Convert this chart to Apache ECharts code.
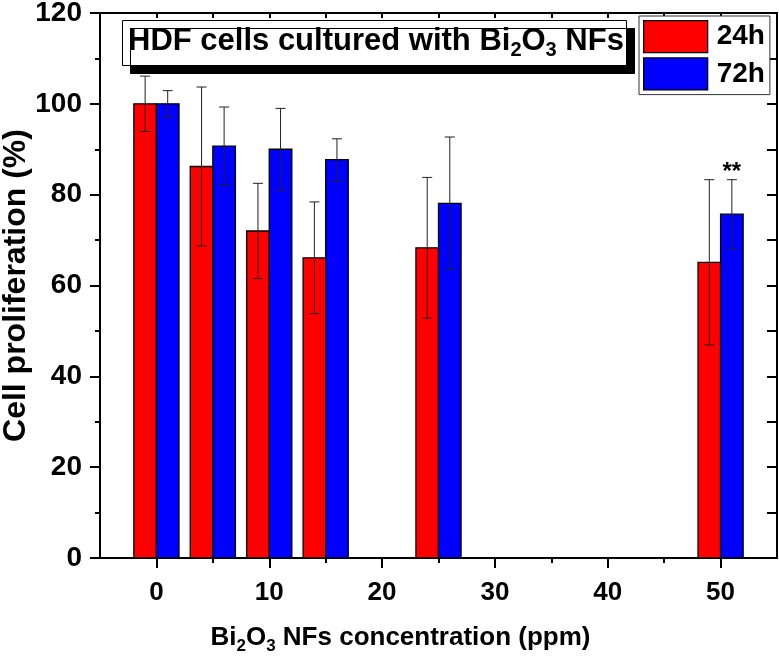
<!DOCTYPE html>
<html>
<head>
<meta charset="utf-8">
<script src="https://cdn.jsdelivr.net/npm/echarts@6/dist/echarts.min.js"></script>
<style>html,body{margin:0;padding:0;background:#fff;}#c{width:779px;height:658px;}</style>
</head>
<body>
<div id="c"></div>
<script>
// ---- data ----
const concentrations = [0, 5, 10, 15, 25, 50];
const h24 = [100, 86.2, 72.0, 66.1, 68.3, 65.1];
const h24Err = [6.1, 17.5, 10.5, 12.3, 15.5, 18.2];
const h72 = [100, 90.7, 90.0, 87.7, 78.1, 75.7];
const h72Err = [2.9, 8.6, 9.0, 4.6, 14.6, 7.6];
const h72Marks = ['', '', '', '', '', '**'];
const xMajorTicks = [0, 10, 20, 30, 40, 50];
const xMinorTicks = [5, 15, 25, 35, 45];
const seriesNames = ['24h', '72h'];

const FONT = '"Liberation Sans", Arial, sans-serif';

function makeRender(off0, off1, marks) {
  return function (params, api) {
    const x = api.value(0), y = api.value(1), e = api.value(2);
    const tl = api.coord([x + off0, y]);
    const br = api.coord([x + off1, 0]);
    const cx = api.coord([x + (off0 + off1) / 2, 0])[0];
    const top = api.coord([x, y + e])[1];
    const bot = api.coord([x, y - e])[1];
    const cap = 5;
    const children = [
      { type: 'rect', shape: { x: tl[0], y: tl[1], width: br[0] - tl[0], height: br[1] - tl[1] },
        style: { fill: api.visual('color'), stroke: '#000', lineWidth: 1.3 } },
      { type: 'line', shape: { x1: cx, y1: top, x2: cx, y2: bot }, style: { stroke: '#222', lineWidth: 1 } },
      { type: 'line', shape: { x1: cx - cap, y1: top, x2: cx + cap, y2: top }, style: { stroke: '#222', lineWidth: 1 } },
      { type: 'line', shape: { x1: cx - cap, y1: bot, x2: cx + cap, y2: bot }, style: { stroke: '#222', lineWidth: 1 } }
    ];
    const m = marks ? marks[params.dataIndex] : '';
    if (m) {
      children.push({ type: 'text', style: { text: m, x: cx, y: top - 7, align: 'center', verticalAlign: 'middle',
        font: 'bold 24px ' + FONT, fill: '#000' } });
    }
    return { type: 'group', children: children };
  };
}

const chart = echarts.init(document.getElementById('c'), null, { renderer: 'canvas' });
const axisLineStyle = { color: '#000', width: 2 };
const option = {
  animation: false,
  backgroundColor: '#fff',
  grid: { left: 100, right: 2, top: 13, bottom: 100, containLabel: false, outerBoundsMode: 'none' },
  title: {
    text: '{a|HDF cells cultured with Bi}{s|2}{a|O}{s|3}{a| NFs}',
    left: 122, top: 17,
    padding: [6, 3, 6, 6],
    backgroundColor: '#fff',
    borderColor: '#000', borderWidth: 1,
    shadowColor: '#000', shadowBlur: 0, shadowOffsetX: 8, shadowOffsetY: 8,
    textStyle: {
      rich: {
        a: { fontFamily: FONT, fontWeight: 'bold', fontSize: 31, color: '#000', lineHeight: 37 },
        s: { fontFamily: FONT, fontWeight: 'bold', fontSize: 20, color: '#000', lineHeight: 37, verticalAlign: 'bottom' }
      }
    }
  },
  legend: {
    data: seriesNames,
    left: 639, top: 16,
    orient: 'vertical',
    icon: 'rect',
    itemWidth: 64, itemHeight: 32, itemGap: 4,
    padding: [4, 5, 4, 4],
    backgroundColor: '#fff',
    borderColor: '#333', borderWidth: 1,
    itemStyle: { borderColor: '#000', borderWidth: 1.3 },
    textStyle: { fontFamily: FONT, fontWeight: 'bold', fontSize: 28, color: '#000', lineHeight: 32, padding: [0, 0, 0, 4] }
  },
  xAxis: [
    {
      type: 'value', position: 'bottom', min: -5, max: 55,
      axisLine: { show: true, onZero: false, lineStyle: axisLineStyle },
      axisTick: { show: true, customValues: xMajorTicks, length: 10, lineStyle: axisLineStyle },
      axisLabel: { customValues: xMajorTicks, fontFamily: FONT, fontWeight: 'bold', fontSize: 26, color: '#000', margin: 22 },
      splitLine: { show: false },
      name: '{a|Bi}{s|2}{a|O}{s|3}{a| NFs concentration (ppm)}{e|}',
      nameLocation: 'middle', nameGap: 63, nameMoveOverlap: false,
      nameTextStyle: {
        rich: {
          a: { fontFamily: FONT, fontWeight: 'bold', fontSize: 26, color: '#000', lineHeight: 34 },
          s: { fontFamily: FONT, fontWeight: 'bold', fontSize: 17, color: '#000', lineHeight: 34, verticalAlign: 'bottom' },
          e: { width: 76, lineHeight: 34 }
        }
      }
    },
    {
      type: 'value', position: 'bottom', min: -5, max: 55,
      axisLine: { show: false, onZero: false },
      axisTick: { show: true, customValues: xMinorTicks, length: 5, lineStyle: axisLineStyle },
      axisLabel: { show: false },
      splitLine: { show: false }
    },
    {
      type: 'value', position: 'top', min: -5, max: 55, interval: 5,
      axisLine: { show: true, onZero: false, lineStyle: axisLineStyle },
      axisTick: { show: true, inside: true, length: 5, lineStyle: axisLineStyle },
      axisLabel: { show: false },
      splitLine: { show: false }
    }
  ],
  yAxis: [
    {
      type: 'value', position: 'left', min: 0, max: 120, interval: 20,
      axisLine: { show: true, onZero: false, lineStyle: axisLineStyle },
      axisTick: { show: true, length: 10, lineStyle: axisLineStyle },
      minorTick: { show: true, splitNumber: 2, length: 5, lineStyle: axisLineStyle },
      axisLabel: { fontFamily: FONT, fontWeight: 'bold', fontSize: 28, color: '#000', margin: 18 },
      splitLine: { show: false },
      name: 'Cell proliferation (%)',
      nameLocation: 'middle', nameGap: 68, nameMoveOverlap: false,
      nameTextStyle: { fontFamily: FONT, fontWeight: 'bold', fontSize: 32, color: '#000' }
    },
    {
      type: 'value', position: 'right', min: 0, max: 120, interval: 10,
      axisLine: { show: true, onZero: false, lineStyle: axisLineStyle },
      axisTick: { show: true, inside: true, length: 10, lineStyle: axisLineStyle },
      axisLabel: { show: false },
      splitLine: { show: false }
    }
  ],
  series: [
    {
      name: seriesNames[0], type: 'custom',
      xAxisIndex: 0, yAxisIndex: 0,
      itemStyle: { color: '#ff0000', borderColor: '#000', borderWidth: 1.3 },
      renderItem: makeRender(-2, 0, null),
      encode: { x: 0, y: 1 },
      data: concentrations.map((c, i) => [c, h24[i], h24Err[i]])
    },
    {
      name: seriesNames[1], type: 'custom',
      xAxisIndex: 0, yAxisIndex: 0,
      itemStyle: { color: '#0000ff', borderColor: '#000', borderWidth: 1.3 },
      renderItem: makeRender(0, 2, h72Marks),
      encode: { x: 0, y: 1 },
      data: concentrations.map((c, i) => [c, h72[i], h72Err[i]])
    }
  ]
};
chart.setOption(option);
</script>
</body>
</html>
